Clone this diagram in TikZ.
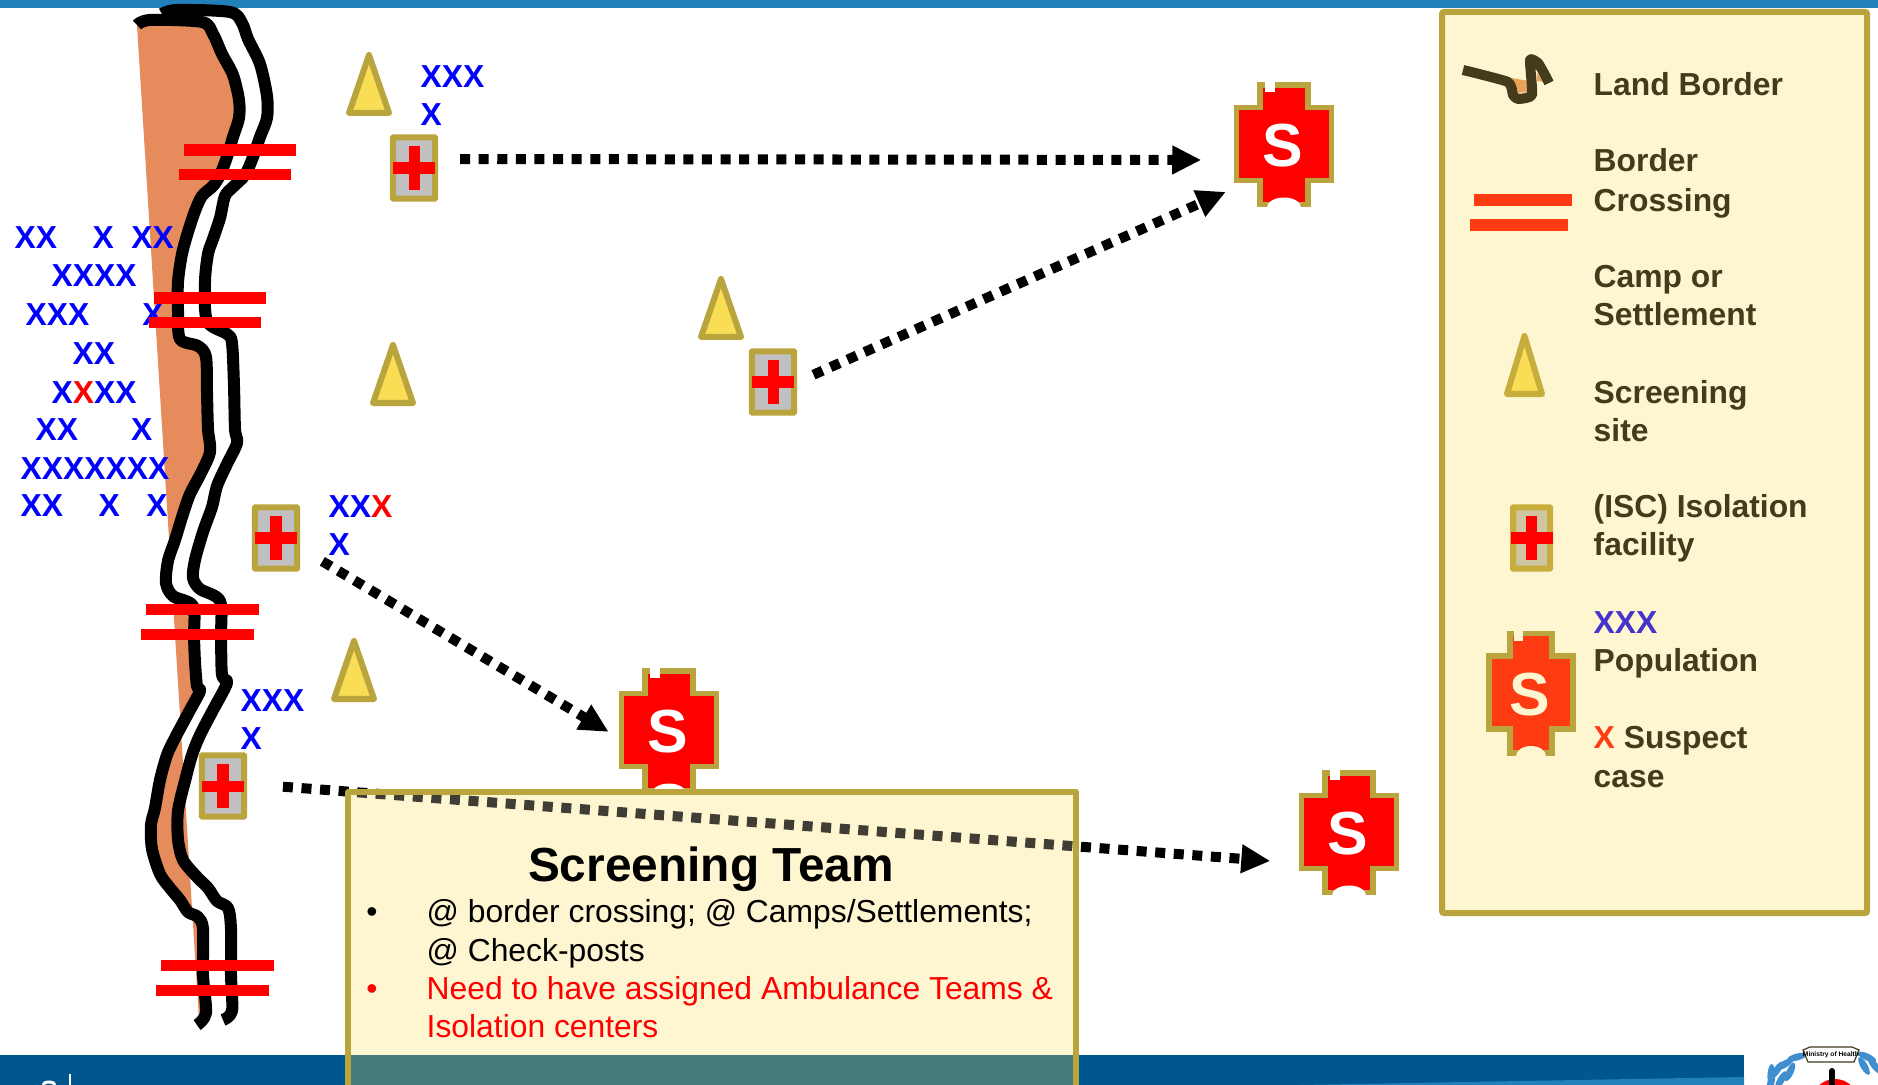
\documentclass[tikz,border=0pt]{standalone}
\usepackage{fontspec}
\setmainfont{Liberation Sans}
\usepackage{xcolor}
\usetikzlibrary{arrows.meta,shapes.geometric}

\definecolor{rimgold}{HTML}{B9A43D}
\definecolor{rimlight}{HTML}{C7AE3C}
\definecolor{campyellow}{HTML}{F9DD55}
\definecolor{landorange}{HTML}{E68C5C}
\definecolor{legendorange}{HTML}{EAA35B}
\definecolor{paper}{HTML}{FEF5D1}
\definecolor{legendtext}{HTML}{433B1B}
\definecolor{legendred}{HTML}{FF3B14}
\definecolor{legendblue}{HTML}{4433CC}
\definecolor{topblue}{HTML}{2180BA}
\definecolor{footblue}{HTML}{00568F}
\definecolor{footteal}{HTML}{467A7B}
\definecolor{facilitygrey}{HTML}{C0C0C0}
\definecolor{legendgrey}{HTML}{CEC6A0}
\definecolor{wreathblue}{HTML}{3F8FD0}

\tikzset{
  borderline/.style={line width=.12cm, line join=round},
  crossbar/.style={fill=red, inner sep=0, minimum width=1.12cm, minimum height=.115cm},
  legendbar/.style={fill=legendred, inner sep=0, minimum width=.98cm, minimum height=.118cm},
  camp/.style={isosceles triangle, isosceles triangle stretches, shape border rotate=90,
    draw=rimgold, fill=campyellow, line width=.06cm, line join=round, inner sep=0,
    minimum width=.40cm, minimum height=.58cm, anchor=lower side},
  crossv/.style={fill=red, inner sep=0, minimum width=.11cm, minimum height=.43cm},
  crossh/.style={fill=red, inner sep=0, minimum width=.42cm, minimum height=.11cm},
  facility/.style={rectangle, draw=rimgold, fill=facilitygrey, line width=.06cm, inner sep=0,
    rounded corners=.004cm, minimum width=.42cm, minimum height=.61cm,
    label={[crossv]center:{}}, label={[crossh]center:{}}},
  pop/.style={text=blue, font=\fontsize{9.05}{10.8}\selectfont\bfseries, inner sep=0, anchor=base west},
  legendlabel/.style={text=legendtext, font=\fontsize{9.05}{10.8}\selectfont\bfseries, inner sep=0,
    anchor=base west, align=left},
  dotlink/.style={line width=.1cm, dash pattern=on .1cm off .086cm,
    -{Triangle[length=.29cm,width=.27cm]}},
  teamline/.style={font=\fontsize{9.05}{11}\selectfont, inner sep=0, anchor=base west},
}

% red cross with the letter, #1 squeezes it sideways
\newcommand{\hospital}[6][1]{%
  \begin{scope}[shift={(#3,#4)},xscale=#1]
    \draw[draw=rimgold, fill=#5, line width=.055cm]
      (-24,-60) -- (24,-60) -- (24,-37.5) -- (47.5,-37.5) -- (47.5,35.5) -- (24,35.5)
      -- (24,59.5) -- (-24,59.5) -- (-24,35.5) -- (-47.5,35.5) -- (-47.5,-37.5) -- (-24,-37.5) -- cycle;
    \fill[#6] (-19,-63) rectangle (-9,-53);
    \fill[#6] (-17,62.5) arc[start angle=180,end angle=360,x radius=17,y radius=10] -- cycle;
  \end{scope}
  \node[text=#6, font=\fontsize{17.3}{20}\selectfont\bfseries, inner sep=0,
    minimum width=1cm, minimum height=1.25cm] (#2) at (#3-1,#4+1) {S};
}

\begin{document}
\begin{tikzpicture}[x=.01cm,y=-.01cm]
    \clip (0,0) rectangle (1878,1085);
    \fill[white] (0,0) rectangle (1878,1085);

    % Slide bars
    \fill[topblue] (0,0.5) rectangle (1878,8.5);
    \fill[footblue] (0,1055) rectangle (1744,1085);
    \fill[topblue] (1300,1085) -- (1744,1077) -- (1744,1085) -- cycle;
    \draw[white, line width=.02cm] (70,1074) -- (70,1085);
    \draw[white, line width=.03cm] (43,1085) arc[start angle=180,end angle=360,x radius=6,y radius=3];

    % Land on the far side of the border
    \fill[landorange] plot[smooth, tension=.5] coordinates {(137,25) (150,20) (202,22) (213,34) (222,54) (233,75) (239,100) (239,118) (233,137) (227,157) (220,175) (213,186) (202,196) (195,211) (188,232) (182,254) (178,282) (178,311) (180,339) (198,346) (206,357) (207,393) (208,429) (210,452) (200,475) (190,494) (183,514) (175,540) (168,561) (166,583) (173,596) (193,606) (194,637) (195,662) (197,686) (200,691) (190,710) (175,738) (167,755) (160,780) (155,808) (151,825) (152,849) (160,874) (170,888) (180,900) (188,912) (198,917) (203,929) (203,975) (206,1013) (199,1020)} -- cycle;

    % Border, two lines
    \draw[borderline] plot[smooth, tension=.5] coordinates {(137,25) (150,20) (202,22) (213,34) (222,54) (233,75) (239,100) (239,118) (233,137) (227,157) (220,175) (213,186) (202,196) (195,211) (188,232) (182,254) (178,282) (178,311) (180,339) (198,346) (206,357) (207,393) (208,429) (210,452) (200,475) (190,494) (183,514) (175,540) (168,561) (166,583) (173,596) (193,606) (194,637) (195,662) (197,686) (200,691) (190,710) (175,738) (167,755) (160,780) (155,808) (151,825) (152,849) (160,874) (170,888) (180,900) (188,912) (198,917) (203,929) (203,975) (206,1013) (197,1025)};
    \draw[borderline] plot[smooth, tension=.5] coordinates {(162,14) (177,10) (230,12) (242,23) (248,39) (260,64) (267,96) (267,118) (260,137) (253,157) (245,175) (233,187) (225,196) (220,218) (213,239) (208,254) (205,282) (207,321) (227,334) (232,343) (234,386) (235,429) (237,443) (227,464) (217,486) (212,507) (203,532) (195,560) (193,578) (200,589) (220,601) (221,637) (222,675) (227,683) (213,710) (200,735) (192,755) (185,781) (178,811) (178,839) (183,860) (197,877) (208,888) (217,901) (228,908) (231,929) (231,975) (232,1011) (223,1020)};

    % Population west of the border
    \node[pop] (row1) at (14,249) {XX~~~~X~~XX};
    \node[pop] (row2) at (51,287) {XXXX};
    \node[pop] (row3) at (25,325) {XXX~~~~~~X};
    \node[pop] (row4) at (72,365) {XX};
    \node[pop] (row5) at (51,403) {X\textcolor{red}{X}XX};
    \node[pop] (row6) at (35,440) {XX~~~~~~X};
    \node[pop] (row7) at (20,479) {XXXXXXX};
    \node[pop] (row8) at (20,516) {XX~~~~X~~~X};

    % Population at the facilities
    \node[pop] (pop1a) at (420,88) {XXX};
    \node[pop] (pop1b) at (420,126) {X};
    \node[pop] (pop2a) at (328,517) {XX\textcolor{red}{X}};
    \node[pop] (pop2b) at (328,555) {X};
    \node[pop] (pop3a) at (240,711) {XXX};
    \node[pop] (pop3b) at (240,749) {X};

    % Border crossings
    \node[crossbar] (cross1a) at (240,150) {};
    \node[crossbar] (cross1b) at (235,174.5) {};
    \node[crossbar] (cross2a) at (210,298) {};
    \node[crossbar] (cross2b) at (205,322.5) {};
    \node[crossbar] (cross3a) at (202.5,609.5) {};
    \node[crossbar] (cross3b) at (197.5,634.5) {};
    \node[crossbar] (cross4a) at (217.5,965.5) {};
    \node[crossbar] (cross4b) at (212.5,990.5) {};

    % Screening sites
    \node[camp] (camp1) at (369,116) {};
    \node[camp] (camp2) at (393,406) {};
    \node[camp] (camp3) at (721,340) {};
    \node[camp] (camp4) at (354,702) {};

    % Isolation facilities
    \node[facility] (iso1) at (414,168) {};
    \node[facility] (iso2) at (773,382) {};
    \node[facility] (iso3) at (276,538) {};
    \node[facility] (iso4) at (223,786) {};

    % Hospitals
    \hospital{hosp1}{1284}{145}{red}{white}
    \hospital{hosp2}{669}{731}{red}{white}
    \hospital{hosp3}{1349}{833}{red}{white}

    % Referral links
    \draw[dotlink, shorten <=.22cm, shorten >=.31cm] ([yshift=.09cm]iso1.east) -- ([yshift=-.14cm]hosp1.west);
    \draw[dotlink, shorten <=.18cm, shorten >=.07cm] (iso2.east) -- ([yshift=-.43cm]hosp1.west);
    \draw[dotlink, shorten <=.26cm, shorten >=.1cm] ([yshift=-.1cm]iso3.east) -- ([yshift=-.05cm]hosp2.west);

    % Screening Team box
    \fill[paper] (348,792) rectangle (1076,1085);
    \draw[dotlink, shorten <=.36cm, shorten >=.27cm] ([yshift=.02cm]iso4.east) -- ([yshift=-.29cm]hosp3.west);
    \fill[paper, fill opacity=.25] (348,792) rectangle (1076,1085);
    \fill[footteal] (348,1055) rectangle (1076,1085);
    \draw[rimgold, line width=.06cm, line join=round] (348,1085) -- (348,792) -- (1076,792) -- (1076,1085);
    \node[font=\fontsize{13.6}{16}\selectfont\bfseries, inner sep=0, anchor=base] (teamtitle) at (711,881) {Screening Team};
    \node[teamline, anchor=base] (bullet1) at (372,922) {•};
    \node[teamline] (team1) at (426,922) {@ border crossing; @ Camps/Settlements;};
    \node[teamline] (team2) at (426,961) {@ Check-posts};
    \node[teamline, anchor=base, text=red] (bullet2) at (372,999) {•};
    \node[teamline, text=red] (team3) at (426,999) {Need to have assigned Ambulance Teams \&};
    \node[teamline, text=red] (team4) at (426,1037) {Isolation centers};

    % Legend
    \draw[rimgold, fill=paper, line width=.06cm, rounded corners=.02cm] (1442,12) rectangle (1867,913);
    \fill[legendorange] (1512,78) -- (1528,81) -- (1527,92) -- (1518,93) -- cycle;
    \fill[legendorange] (1537,73) -- (1545,82) -- (1537,81) -- cycle;
    \draw[legendtext, line width=.1cm, line join=round] plot[smooth, tension=.3] coordinates {(1463,70) (1508,82) (1513,95) (1518,99) (1532,95) (1530,60) (1538,63) (1545,75) (1549,83)};
    \node[legendlabel] (lgborder) at (1593,96) {Land Border};
    \node[legendbar] (lgbar1) at (1523,200) {};
    \node[legendbar] (lgbar2) at (1519,225) {};
    \node[legendlabel] (lgcross) at (1593,212) {Border\\[.6pt]Crossing};
    \node[legendlabel] (lgcamp) at (1593,325) {Camp or\\Settlement};
    \node[camp, minimum width=.35cm, minimum height=.58cm, draw=rimlight] (lgtri) at (1524.5,397) {};
    \node[legendlabel] (lgscreen) at (1593,441) {Screening\\site};
    \node[facility, minimum width=.37cm, fill=legendgrey, draw=rimlight,
      crossv/.append style={fill=legendred}, crossh/.append style={fill=legendred, minimum width=.43cm}] (lgiso) at (1531.5,538) {};
    \node[legendlabel] (lgisolate) at (1593,555) {(ISC) Isolation\\facility};
    \hospital[.88]{lghosp}{1531}{693.5}{legendred}{paper}
    \node[legendlabel] (lgpop) at (1593,671) {\textcolor{legendblue}{XXX}\\Population};
    \node[legendlabel] (lgcase) at (1593,787.5) {\textcolor{legendred}{X} Suspect\\[.4pt]case};

    % Ministry emblem, cut by the page edge
    \foreach \x/\y/\a in {1771/1082/75,1777/1070/55,1771/1074/85,1785/1064/30,1790/1072/65,1797/1057/15,1781/1080/60,1867/1057/-25,1875/1066/-50,1864/1066/-60}
      \fill[wreathblue, rotate around={\a:(\x,\y)}] (\x,\y) ellipse (10 and 3.5);
    \draw[red, line width=.08cm] (1835,1102) circle (19);
    \draw[black, line width=.06cm, line cap=round] (1832,1071) -- (1832,1085);
    \draw[legendtext, fill=white, line width=.012cm] (1803,1050) -- (1810,1047) -- (1852,1047) -- (1859,1050) -- (1854,1062) -- (1808,1062) -- cycle;
    \node[font=\fontsize{1.9}{2}\selectfont\bfseries, inner sep=0] (emblem) at (1831,1054.5) {Ministry of Health};
\end{tikzpicture}
\end{document}
